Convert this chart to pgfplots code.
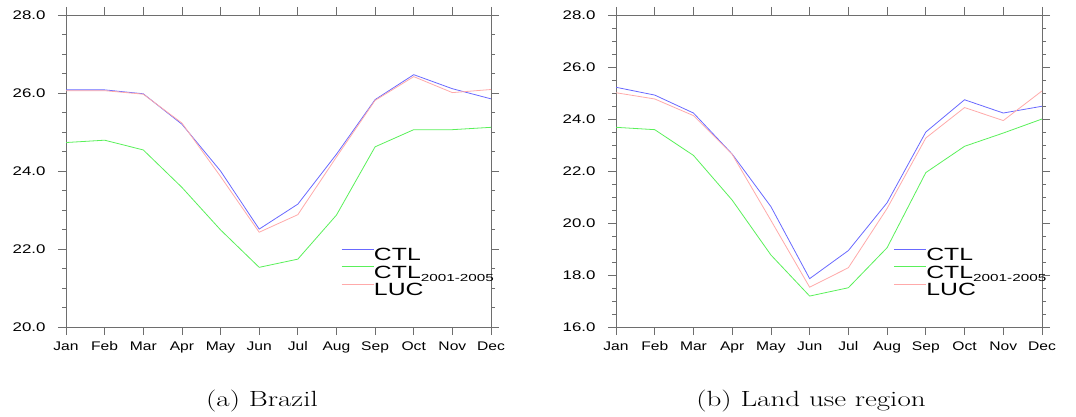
\documentclass[border=0pt]{standalone}
\usepackage{fontspec}
\usepackage{graphicx}
\usepackage{pgfplots}
\usepackage{pgfplotstable}
\pgfplotsset{compat=1.18}
\newfontfamily\ytickfont[FakeStretch=1.35]{Liberation Sans}
\newfontfamily\xtickfont[FakeStretch=1.25]{Liberation Sans}
\newfontfamily\legfont[FakeStretch=1.4]{Liberation Sans}
\newfontfamily\subfont[FakeStretch=1.5]{Liberation Sans}
\definecolor{ctlblue}{RGB}{105,105,255}
\definecolor{ctlgreen}{RGB}{90,240,90}
\definecolor{lucpink}{RGB}{255,170,170}
\definecolor{axgray}{RGB}{110,110,110}

\pgfplotstableread{
m ctl c05 luc
0 26.08 24.73 26.06
1 26.08 24.79 26.06
2 25.98 24.54 25.97
3 25.20 23.58 25.23
4 24.00 22.49 23.86
5 22.51 21.53 22.43
6 23.15 21.74 22.88
7 24.43 22.87 24.36
8 25.83 24.62 25.81
9 26.47 25.06 26.42
10 26.11 25.06 26.01
11 25.85 25.12 26.09
}\brazil

\pgfplotstableread{
m ctl c05 luc
0 25.22 23.68 25.01
1 24.92 23.59 24.77
2 24.23 22.60 24.13
3 22.65 20.88 22.64
4 20.63 18.77 20.10
5 17.86 17.19 17.53
6 18.94 17.51 18.28
7 20.78 19.05 20.56
8 23.50 21.94 23.27
9 24.74 22.95 24.44
10 24.23 23.46 23.94
11 24.49 24.00 25.08
}\landuse

\pgfplotsset{
  nclstyle/.style={
    scale only axis,
    anchor=south west,
    height=312pt,
    xmin=0, xmax=11,
    xtick={0,...,11},
    xticklabels={Jan,Feb,Mar,Apr,May,Jun,Jul,Aug,Sep,Oct,Nov,Dec},
    ytick distance=2,
    minor y tick num=3,
    tick pos=both,
    tick align=outside,
    major tick length=8pt,
    minor tick length=4pt,
    axis line style={axgray, line width=0.8pt},
    every tick/.style={axgray, line width=0.8pt},
    /pgf/number format/.cd, fixed, fixed zerofill, precision=1, assume math mode=true,
    /pgfplots/.cd,
    yticklabel style={font=\ytickfont\fontsize{12.5}{12}\selectfont, black, xshift=-9pt},
    xticklabel style={font=\xtickfont\fontsize{12.5}{12}\selectfont, black, yshift=-3pt},
    legend style={draw=none, fill=none, anchor=north west, inner sep=0pt,
      row sep=3.5pt, nodes={inner sep=0pt},
      font=\legfont\fontsize{17.7}{18}\selectfont},
    legend cell align=left,
    legend image code/.code={\draw[#1] (0pt,6pt) -- (32pt,6pt);},
    every axis plot/.append style={line width=0.8pt},
  }
}
\newcommand{\subyr}{\raisebox{-3.7pt}{\subfont\fontsize{10.2}{10}\selectfont 2001-2005}}

\begin{document}
\begin{tikzpicture}
\useasboundingbox (0,0) rectangle (1076pt,416pt);
\begin{axis}[nclstyle, at={(66pt,89pt)}, width=425pt, ymin=20, ymax=28,
  legend style={at={(0.647,0.252)}}]
\addplot[ctlblue] table[x=m,y=ctl]{\brazil};
\addlegendentry{CTL}
\addplot[ctlgreen] table[x=m,y=c05]{\brazil};
\addlegendentry{CTL\subyr}
\addplot[lucpink] table[x=m,y=luc]{\brazil};
\addlegendentry{LUC}
\end{axis}
\begin{axis}[nclstyle, at={(616pt,89pt)}, width=426pt, ymin=16, ymax=28,
  legend style={at={(0.651,0.252)}}]
\addplot[ctlblue] table[x=m,y=ctl]{\landuse};
\addlegendentry{CTL}
\addplot[ctlgreen] table[x=m,y=c05]{\landuse};
\addlegendentry{CTL\subyr}
\addplot[lucpink] table[x=m,y=luc]{\landuse};
\addlegendentry{LUC}
\end{axis}
\node[anchor=base] at (262pt,10pt) {\scalebox{1.32}[1]{\fontsize{22}{24}\selectfont (a) Brazil}};
\node[anchor=base] at (811pt,10pt) {\scalebox{1.32}[1]{\fontsize{22}{24}\selectfont (b) Land use region}};
\end{tikzpicture}
\end{document}
